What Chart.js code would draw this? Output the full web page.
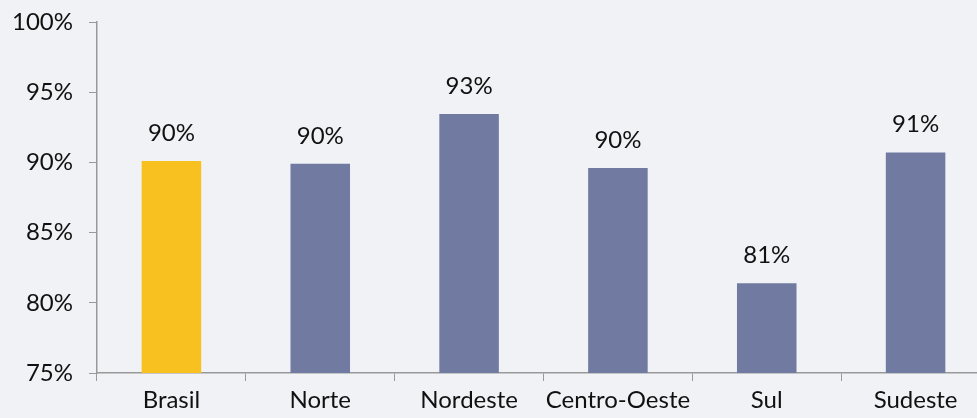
<!DOCTYPE html>
<html>
<head>
<meta charset="utf-8">
<script src="https://cdn.jsdelivr.net/npm/chart.js@4/dist/chart.umd.min.js"></script>
<style>
  html, body { margin: 0; padding: 0; overflow: hidden; background: #f1f2f6; }
  #wrap { width: 990px; height: 418px; }
</style>
</head>
<body>
<div id="wrap"><canvas id="myChart" width="990" height="418"></canvas></div>
<script>
const regioes = ['Brasil', 'Norte', 'Nordeste', 'Centro-Oeste', 'Sul', 'Sudeste'];
const percentuais = [90.1, 89.9, 93.45, 89.6, 81.4, 90.7];
const coresBarras = ['#f8c120', '#717ba1', '#717ba1', '#717ba1', '#717ba1', '#717ba1'];
const yMin = 75;
const yMax = 100;
const yPasso = 5;

const fonte = "Lato, 'Open Sans', sans-serif";

// rótulos em cima das barras
const rotulos = {
    id: 'rotulos',
    afterDatasetsDraw(chart) {
        const ctx = chart.ctx;
        const meta = chart.getDatasetMeta(0);
        ctx.save();
        ctx.font = '24px ' + fonte;
        ctx.fillStyle = '#111';
        ctx.textAlign = 'center';
        ctx.textBaseline = 'middle';
        meta.data.forEach((bar, i) => {
            ctx.fillText(Math.round(percentuais[i]) + '%', bar.x, bar.y - 28);
        });
        ctx.restore();
    }
};

const ctx = document.getElementById('myChart').getContext('2d');
const myChart = new Chart(ctx, {
    type: 'bar',
    data: {
        labels: regioes,
        datasets: [{
            data: percentuais,
            backgroundColor: coresBarras,
            borderWidth: 0,
            categoryPercentage: 1,
            barPercentage: 0.4
        }]
    },
    options: {
        responsive: false,
        animation: false,
        layout: { padding: { top: 22, right: 0, bottom: 0, left: 0 } },
        plugins: {
            legend: { display: false },
            tooltip: { enabled: false }
        },
        scales: {
            x: {
                grid: { display: true, drawOnChartArea: false, color: '#999', tickLength: 8, offset: true },
                border: { display: true, color: '#999', width: 1.5 },
                ticks: {
                    color: '#111',
                    font: { family: fonte, size: 24 },
                    padding: 5,
                    maxRotation: 0,
                    minRotation: 0,
                    autoSkip: false
                },
                afterFit(scale) {
                    scale.height = 45;
                    scale.paddingLeft = 0;
                    scale.paddingRight = 0;
                }
            },
            y: {
                min: yMin,
                max: yMax,
                grid: { display: true, drawOnChartArea: false, color: '#999', tickLength: 8 },
                border: { display: true, color: '#999', width: 1.5 },
                ticks: {
                    stepSize: yPasso,
                    color: '#111',
                    font: { family: fonte, size: 24 },
                    padding: 16,
                    callback: (v) => v + '%'
                },
                afterFit(scale) {
                    scale.width = 97;
                    scale.paddingTop = 0;
                    scale.paddingBottom = 0;
                }
            }
        }
    },
    plugins: [rotulos]
});
</script>
</body>
</html>
